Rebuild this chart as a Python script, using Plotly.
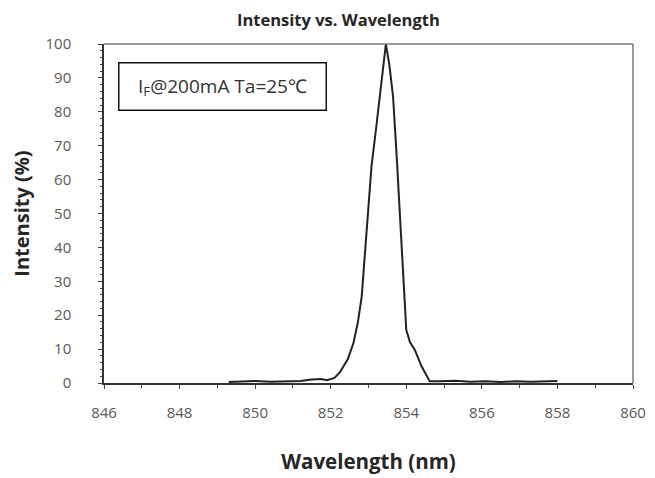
import plotly.graph_objects as go

# Data
wavelength = [849.3, 849.6, 850.0, 850.4, 850.8, 851.2, 851.5, 851.75, 851.9,
              852.1, 852.25, 852.45, 852.6, 852.72, 852.82, 852.92, 853.0,
              853.08, 853.2, 853.3, 853.4, 853.46, 853.55, 853.65, 853.75,
              853.83, 853.92, 854.0, 854.1, 854.23, 854.4, 854.62, 854.9,
              855.3, 855.7, 856.1, 856.5, 856.9, 857.3, 857.7, 858.0]
intensity = [0.3, 0.5, 0.6, 0.4, 0.5, 0.6, 1.0, 1.2, 0.8,
             1.5, 3.3, 7.0, 11.7, 18.0, 25.5, 40.0, 53.0,
             64.0, 75.0, 84.5, 95.0, 100.0, 94.0, 84.5, 66.0,
             49.0, 30.0, 15.6, 12.0, 9.7, 5.0, 0.5, 0.5,
             0.7, 0.4, 0.5, 0.3, 0.5, 0.4, 0.5, 0.6]
x_ticks = [846, 848, 850, 852, 854, 856, 858, 860]
y_ticks = [0, 10, 20, 30, 40, 50, 60, 70, 80, 90, 100]

FONT = "Open Sans, Lato, sans-serif"

# The page body adds an 8px offset; margins compensate so the plot area
# lands at x 104..633, y 44..383 in the window.
fig = go.Figure()
fig.add_trace(go.Scatter(x=wavelength, y=intensity, mode="lines",
                         line=dict(color="#222222", width=2),
                         showlegend=False))

fig.update_layout(
    width=655, height=478,
    margin=dict(l=96, r=30, t=36, b=103),
    paper_bgcolor="white", plot_bgcolor="white",
    font=dict(family=FONT, color="#595959", size=13),
    xaxis=dict(range=[846, 860], tickvals=x_ticks, automargin=False,
               showgrid=False, zeroline=False,
               showline=True, linecolor="#333333", linewidth=1.5,
               ticks="outside", ticklen=4, tickcolor="#404040",
               minor=dict(dtick=1, ticks="outside", ticklen=3, tickcolor="#404040"),
               ticklabelstandoff=11,
               tickfont=dict(size=15, color="#595959"),
               title=dict(text="<b>Wavelength (nm)</b>",
                          font=dict(size=20.5, color="#262626"), standoff=34)),
    yaxis=dict(range=[0, 100], tickvals=y_ticks, automargin=False,
               showgrid=False, zeroline=False,
               showline=True, linecolor="#333333", linewidth=1.5,
               ticks="outside", ticklen=4, tickcolor="#404040",
               minor=dict(dtick=2, ticks="outside", ticklen=2, tickcolor="#404040"),
               ticklabelstandoff=24,
               tickfont=dict(size=15, color="#595959"),
               title=dict(text="<b>Intensity (%)</b>",
                          font=dict(size=20, color="#262626"), standoff=16)),
)

# top and right frame lines (lighter gray, as in the reference)
fig.add_shape(type="line", xref="paper", yref="paper", x0=0, x1=1, y0=1, y1=1,
              line=dict(color="#7a7a7a", width=1.5))
fig.add_shape(type="line", xref="paper", yref="paper", x0=1, x1=1, y0=0, y1=1,
              line=dict(color="#7a7a7a", width=1.5))

fig.add_annotation(text="<b>Intensity vs. Wavelength</b>",
                   xref="paper", yref="paper", x=(338 - 104) / 529, y=1,
                   yshift=25, xanchor="center", yanchor="middle",
                   showarrow=False, font=dict(size=16.5, color="#262626", family=FONT))

fig.add_annotation(text="I<sub>F</sub>@200mA Ta=25℃",
                   xref="paper", yref="paper",
                   x=(118 - 104) / 529, y=(383 - 62) / 339,
                   xanchor="left", yanchor="top", showarrow=False,
                   width=202, height=42, borderpad=2,
                   bordercolor="#111111", borderwidth=1.5, bgcolor="white",
                   font=dict(size=19, color="#333333", family=FONT))

fig.write_html("out.html")
